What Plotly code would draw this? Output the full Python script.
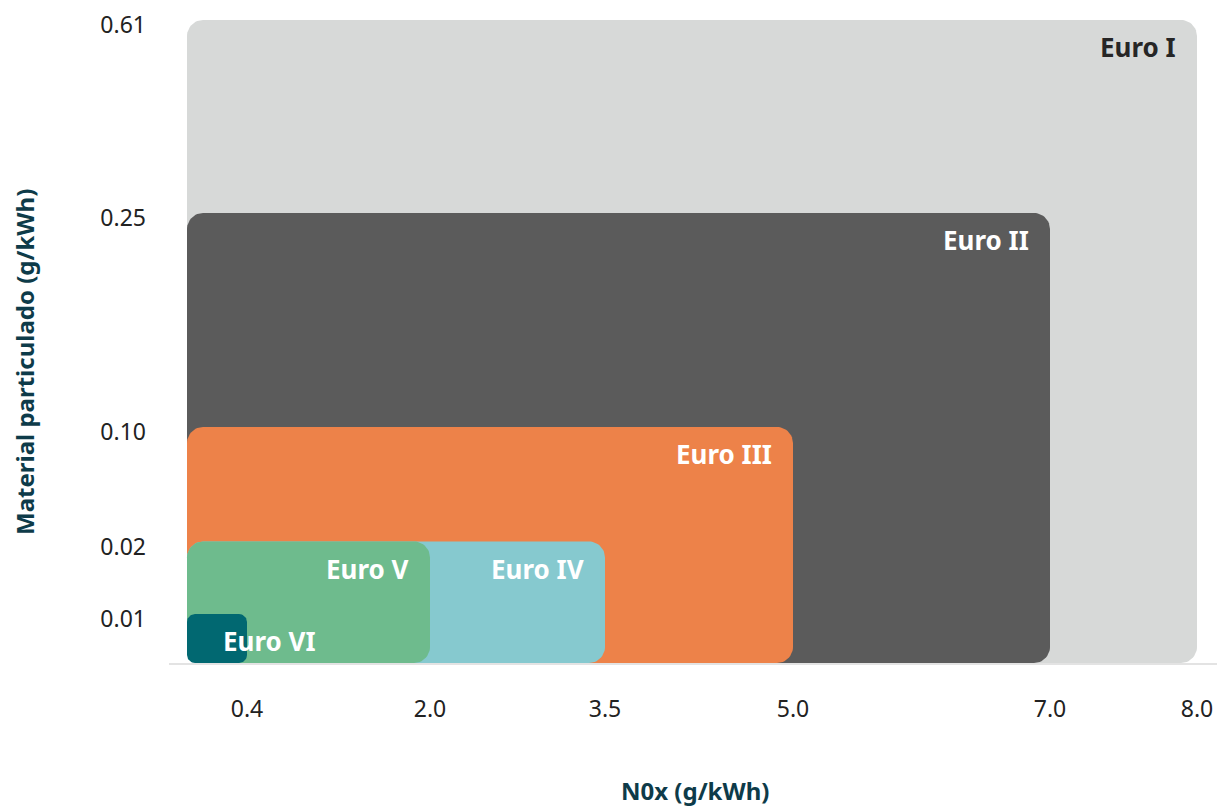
import numpy as np
import plotly.graph_objects as go

# ---- data ----
STANDARDS = ["Euro I", "Euro II", "Euro III", "Euro IV", "Euro V", "Euro VI"]
NOX = [8.0, 7.0, 5.0, 3.5, 2.0, 0.4]          # g/kWh
PM = [0.61, 0.25, 0.10, 0.02, 0.02, 0.01]      # g/kWh
X_TICKS = [0.4, 2.0, 3.5, 5.0, 7.0, 8.0]
X_TICK_TEXT = ["0.4", "2.0", "3.5", "5.0", "7.0", "8.0"]
Y_TICKS = [0.01, 0.02, 0.10, 0.25, 0.61]
Y_TICK_TEXT = ["0.01", "0.02", "0.10", "0.25", "0.61"]
X_TITLE = "N0x (g/kWh)"
Y_TITLE = "Material particulado (g/kWh)"

# ---- styles ----
FILL = ["#D7D9D8", "#5B5B5B", "#ED8249", "#86C9CF", "#6EBB8D", "#016871"]
TEXT = ["#262626", "#FFFFFF", "#FFFFFF", "#FFFFFF", "#FFFFFF", "#FFFFFF"]
RADIUS = [0.16, 0.16, 0.16, 0.16, 0.16, 0.08]
TITLE_COLOR = "#0E3B49"
FONT = "Noto Sans"

# ---- custom (non-linear, designer) axis scales: value -> axis position ----
X_SCALE_VALUES = [0.0, 0.4, 2.0, 3.5, 5.0, 7.0, 8.0]
X_SCALE_POS = [0.0, 0.60, 2.43, 4.18, 6.06, 8.63, 10.10]
Y_SCALE_VALUES = [0.0, 0.01, 0.02, 0.10, 0.25, 0.61]
Y_SCALE_POS = [0.0, 0.49, 1.215, 2.36, 4.50, 6.43]


def sx(v):
    return float(np.interp(v, X_SCALE_VALUES, X_SCALE_POS))


def sy(v):
    return float(np.interp(v, Y_SCALE_VALUES, Y_SCALE_POS))


def rounded_rect(x0, x1, y0, y1, r, n=14):
    xs, ys = [], []
    corners = [
        (x1 - r, y0 + r, -np.pi / 2, 0.0),        # bottom-right
        (x1 - r, y1 - r, 0.0, np.pi / 2),         # top-right
        (x0 + r, y1 - r, np.pi / 2, np.pi),       # top-left
        (x0 + r, y0 + r, np.pi, 1.5 * np.pi),     # bottom-left
    ]
    for cx, cy, a0, a1 in corners:
        t = np.linspace(a0, a1, n)
        xs.extend(cx + r * np.cos(t))
        ys.extend(cy + r * np.sin(t))
    xs.append(xs[0])
    ys.append(ys[0])
    return xs, ys


fig = go.Figure()
for name, nox, pm, fill, r in zip(STANDARDS, NOX, PM, FILL, RADIUS):
    xs, ys = rounded_rect(sx(0), sx(nox), sy(0), sy(pm), r)
    fig.add_trace(go.Scatter(
        x=xs, y=ys, mode="lines", fill="toself", fillcolor=fill,
        line=dict(width=0, color=fill), name=name,
        hovertemplate=f"{name}<br>NOx: {nox} g/kWh<br>MP: {pm} g/kWh<extra></extra>",
        showlegend=False,
    ))

for name, nox, pm, tc in zip(STANDARDS, NOX, PM, TEXT):
    if name == "Euro VI":
        ann = dict(x=sx(0), xanchor="left", xshift=34)
    else:
        ann = dict(x=sx(nox), xanchor="right", xshift=-19)
    fig.add_annotation(
        y=sy(pm), yanchor="middle", yshift=-27, text=f"<b>{name}</b>",
        showarrow=False, font=dict(family=FONT, size=26, color=tc), **ann,
    )

# axis titles
fig.add_annotation(
    xref="paper", yref="paper", x=0.502, y=0, yshift=-127, xanchor="center", yanchor="middle",
    text=f"<b>{X_TITLE}</b>", showarrow=False, font=dict(family=FONT, size=24, color=TITLE_COLOR),
)
fig.add_annotation(
    xref="paper", yref="paper", x=0, xshift=-144, y=0.454, xanchor="center", yanchor="middle",
    textangle=-90, text=f"<b>{Y_TITLE}</b>", showarrow=False,
    font=dict(family=FONT, size=24, color=TITLE_COLOR),
)

fig.update_layout(
    width=1217, height=807,
    margin=dict(l=169, r=0, t=0, b=144),
    paper_bgcolor="white", plot_bgcolor="white",
    font=dict(family=FONT, color="#222222"),
    showlegend=False,
)
fig.update_xaxes(
    range=[-0.18, 10.30], showgrid=False, zeroline=False,
    showline=True, linecolor="#E3E3E3", linewidth=2,
    tickmode="array", tickvals=[sx(v) for v in X_TICKS], ticktext=X_TICK_TEXT,
    ticks="", ticklabelstandoff=24, tickfont=dict(size=23, color="#222222"),
    automargin=False, fixedrange=True,
)
fig.update_yaxes(
    range=[0, 6.63], showgrid=False, zeroline=False, showline=False,
    tickmode="array", tickvals=[sy(v) for v in Y_TICKS], ticktext=Y_TICK_TEXT,
    ticks="", ticklabelstandoff=22, ticklabelshift=5, tickfont=dict(size=23, color="#222222"),
    automargin=False, fixedrange=True,
)

fig.write_html("out.html")
